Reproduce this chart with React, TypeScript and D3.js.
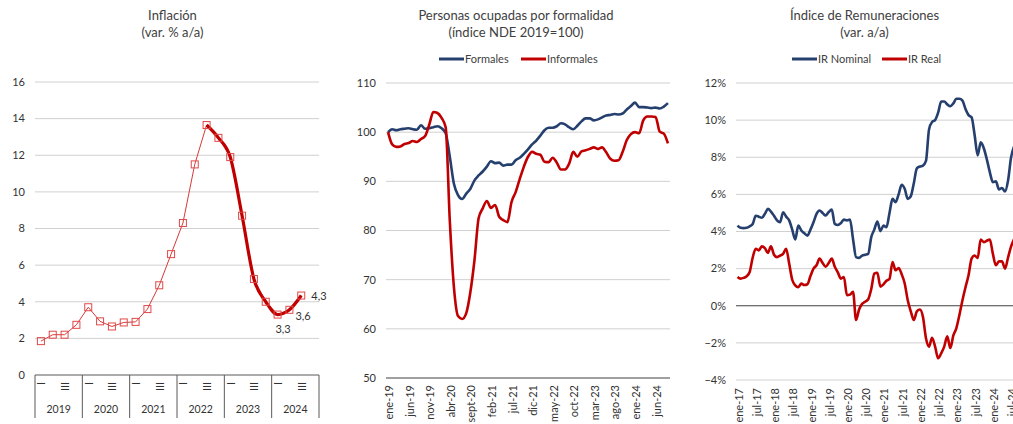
import React from "react";
import * as d3 from "d3";

// ---------- Chart 1: Inflación (quarterly, 2019Q1..2024Q3) ----------
const inflYears = ["2019", "2020", "2021", "2022", "2023", "2024"];
const inflQuarterTicks = ["I", "", "III", ""];
const inflValues = [
  1.85, 2.2, 2.2, 2.74,
  3.7, 2.93, 2.65, 2.87,
  2.9, 3.6, 4.9, 6.6,
  8.3, 11.5, 13.65, 12.95,
  11.9, 8.7, 5.24, 4.0,
  3.3, 3.56, 4.34,
];
const inflHighlightStart = 14;
const inflPointLabels = ["3,3", "3,6", "4,3"];
const inflPointLabelIdx = [20, 21, 22];
const inflTicks = [0, 2, 4, 6, 8, 10, 12, 14, 16];

// ---------- Chart 2: Personas ocupadas (monthly ene-19..sept-24) ----------
const empFormales = [
  100.0, 100.6, 100.4, 100.6, 100.7, 100.8, 100.6, 100.5, 101.4, 100.7,
  100.8, 101.0, 101.2, 100.8, 99.8, 95.0, 89.5, 87.2, 86.4, 87.5,
  88.5, 90.2, 91.2, 92.0, 93.0, 94.1, 93.7, 93.8, 93.2, 93.4,
  93.4, 94.3, 94.8, 95.6, 96.5, 97.5, 98.3, 99.3, 100.4, 100.9,
  100.9, 101.2, 101.8, 101.6, 101.0, 100.6, 101.3, 102.2, 102.8, 102.8,
  102.4, 102.6, 103.0, 103.4, 103.5, 103.7, 103.6, 103.8, 104.6, 105.3,
  106.0, 105.1, 105.1, 105.0, 104.9, 105.0, 104.8, 105.2, 105.9,
];
const empInformales = [
  100.0, 97.5, 97.0, 97.1, 97.6, 97.8, 98.2, 98.0, 98.6, 99.2,
  101.5, 104.1, 103.9, 102.9, 101.0, 82.0, 68.5, 62.6, 62.0, 63.2,
  67.5, 74.0, 82.5, 84.5, 86.0, 84.6, 85.2, 82.8, 82.1, 81.7,
  85.8, 87.8, 90.5, 93.0, 95.0, 96.0, 95.6, 95.4, 94.0, 93.9,
  94.8, 93.8, 92.4, 92.4, 93.6, 96.0, 95.0, 96.1, 96.3, 96.6,
  96.9, 96.6, 96.9, 95.9, 94.6, 94.2, 94.3, 96.0, 98.4, 99.6,
  100.0, 99.8, 102.4, 103.2, 103.2, 103.1, 100.1, 99.7, 97.7,
];
const empTickLabels = [
  "ene-19", "jun-19", "nov-19", "abr-20", "sept-20", "feb-21", "jul-21",
  "dic-21", "may-22", "oct-22", "mar-23", "ago-23", "ene-24", "jun-24",
];
const empTickStep = 5;
const empYTicks = [50, 60, 70, 80, 90, 100, 110];
const empSeriesNames = ["Formales", "Informales"];

// ---------- Chart 3: Índice de Remuneraciones (monthly ene-17..) ----------
const remNominal = [
  4.32, 4.2, 4.18, 4.2, 4.28, 4.4, 4.85, 4.8, 4.74, 4.95,
  5.22, 5.07, 4.85, 4.6, 4.5, 5.04, 4.8, 4.6, 4.1, 3.57,
  4.32, 4.05, 3.9, 3.78, 4.1, 4.5, 4.95, 5.13, 5.0, 4.86,
  5.05, 5.18, 4.41, 4.35, 4.45, 4.64, 4.6, 4.64, 3.6, 2.62,
  2.58, 2.7, 2.75, 2.8, 3.7, 4.1, 4.54, 4.02, 4.32, 4.23,
  5.0, 5.76, 5.58, 6.0, 6.52, 6.3, 5.76, 5.9, 6.6, 7.4,
  7.5, 7.55, 7.8, 9.5, 9.9, 10.0, 10.4, 11.0, 11.0, 10.85,
  10.75, 10.9, 11.15, 11.15, 11.05, 10.6, 10.27, 10.15, 9.2, 8.1,
  8.8, 8.5, 7.9, 7.2, 6.66, 6.7, 6.27, 6.34, 6.16, 6.75,
  8.0, 8.6,
];
const remReal = [
  1.55, 1.46, 1.5, 1.59, 1.82, 2.6, 3.07, 2.98, 3.2, 3.1,
  2.85, 3.2, 2.75, 2.62, 2.7, 2.8, 3.07, 2.27, 1.4, 1.1,
  1.0, 1.19, 1.12, 1.16, 1.6, 2.0, 2.18, 2.54, 2.3, 2.1,
  2.3, 2.54, 2.1, 1.8, 1.46, 1.55, 0.57, 0.6, 0.75, -0.77,
  -0.2, 0.1, 0.22, 0.35, 0.9, 1.73, 1.78, 1.03, 1.15, 1.35,
  1.45, 2.36, 1.91, 2.03, 1.7, 1.2, 0.3, -0.3, -0.77, -0.3,
  -0.2, -0.6, -1.75, -2.2, -1.72, -2.2, -2.83, -2.56, -2.2, -1.65,
  -2.28, -1.6, -1.2, -0.5, 0.3, 1.0, 1.64, 2.54, 2.71, 2.57,
  3.57, 3.43, 3.5, 3.57, 2.8, 2.18, 2.39, 2.39, 2.0, 2.6,
  3.2, 3.6,
];
const remTickLabels = [
  "ene-17", "jul-17", "ene-18", "jul-18", "ene-19", "jul-19", "ene-20", "jul-20",
  "ene-21", "jul-21", "ene-22", "jul-22", "ene-23", "jul-23", "ene-24", "jul-24",
];
const remTickStep = 6;
const remYTicks = [-4, -2, 0, 2, 4, 6, 8, 10, 12];
const remSeriesNames = ["IR Nominal", "IR Real"];

// ---------- styles ----------
const FONT = "Lato, 'Open Sans', sans-serif";
const TITLE_C = "#404040";
const TICK_C = "#333333";
const GRID_C = "#d0d0d0";
const AXIS_C = "#404040";
const NAVY = "#253f6e";
const RED = "#c00000";

function Title({ x, lines }: { x: number; lines: string[] }) {
  return (
    <g>
      {lines.map((t, i) => (
        <text key={i} x={x} y={19.5 + i * 17.5} textAnchor="middle" fontSize={13} fill={TITLE_C} fontFamily={FONT}>
          {t}
        </text>
      ))}
    </g>
  );
}

function InflationChart() {
  const x0 = 35, x1 = 319;
  const x = d3.scaleLinear().domain([0, 24]).range([x0, x1]);
  const y = d3.scaleLinear().domain([0, 16]).range([375, 82]);
  const px = (i: number) => x(i + 0.5);
  const line = d3.line<number>().x((_, i) => px(i)).y((d) => y(d));
  const thick = d3
    .line<number>()
    .x((_, i) => px(i + inflHighlightStart))
    .y((d) => y(d))
    .curve(d3.curveMonotoneX);
  const labelOffsets = [
    { dx: 5.5, dy: 18, anchor: "middle" },
    { dx: 6, dy: 10.5, anchor: "start" },
    { dx: 10, dy: 4.5, anchor: "start" },
  ];
  return (
    <g>
      <Title x={172.5} lines={["Inflación", "(var. % a/a)"]} />
      {inflTicks.map((t) => (
        <g key={t}>
          {t > 0 && <line x1={x0} x2={x1} y1={y(t)} y2={y(t)} stroke={GRID_C} strokeWidth={1} />}
          <text x={25} y={y(t)} dy="0.35em" textAnchor="end" fontSize={11} fill={TICK_C} fontFamily={FONT}>
            {t}
          </text>
        </g>
      ))}
      <line x1={x0} x2={x1} y1={y(0)} y2={y(0)} stroke="#595959" strokeWidth={1} />
      {d3.range(inflYears.length + 1).map((k) => (
        <line key={k} x1={x(k * 4)} x2={x(k * 4)} y1={y(0)} y2={418} stroke="#595959" strokeWidth={1} />
      ))}
      {inflYears.map((yr, k) => (
        <g key={yr}>
          <text x={x(k * 4 + 2)} y={413} textAnchor="middle" fontSize={10.5} fill={TICK_C} fontFamily={FONT}>
            {yr}
          </text>
          {inflQuarterTicks.map((q, j) =>
            q ? (
              <text
                key={j}
                transform={`translate(${px(k * 4 + j)},382) rotate(90)`}
                dy="0.35em"
                textAnchor="start"
                fontSize={10.5}
                fill={TICK_C}
                fontFamily={FONT}
              >
                {q}
              </text>
            ) : null
          )}
        </g>
      ))}
      <path d={line(inflValues) || ""} fill="none" stroke="#d83a3a" strokeWidth={1} />
      <path d={thick(inflValues.slice(inflHighlightStart)) || ""} fill="none" stroke={RED} strokeWidth={3.2} strokeLinejoin="round" />
      {inflValues.map((v, i) => (
        <rect key={i} x={px(i) - 3.5} y={y(v) - 3.5} width={7} height={7} fill="none" stroke="#e04848" strokeWidth={1} />
      ))}
      {inflPointLabels.map((t, k) => {
        const i = inflPointLabelIdx[k];
        const o = labelOffsets[k];
        return (
          <text key={t} x={px(i) + o.dx} y={y(inflValues[i]) + o.dy} textAnchor={o.anchor as any} fontSize={11} fill={TICK_C} fontFamily={FONT}>
            {t}
          </text>
        );
      })}
    </g>
  );
}

function Legend({ items, colors, starts }: { items: string[]; colors: string[]; starts: number[] }) {
  return (
    <g>
      {items.map((t, i) => (
        <g key={t}>
          <line x1={starts[i]} x2={starts[i] + 25} y1={59} y2={59} stroke={colors[i]} strokeWidth={3} />
          <text x={starts[i] + 26} y={59} dy="0.35em" fontSize={11} fill={TITLE_C} fontFamily={FONT}>
            {t}
          </text>
        </g>
      ))}
    </g>
  );
}

function EmploymentChart() {
  const x0 = 386, x1 = 670;
  const n = empFormales.length;
  const x = d3.scaleLinear().domain([-0.5, n - 0.5]).range([x0, x1]);
  const y = d3.scaleLinear().domain([50, 110]).range([378, 83]);
  const line = d3.line<number>().x((_, i) => x(i)).y((d) => y(d)).curve(d3.curveMonotoneX);
  return (
    <g>
      <Title x={516} lines={["Personas ocupadas por formalidad", "(índice NDE 2019=100)"]} />
      <Legend items={empSeriesNames} colors={[NAVY, RED]} starts={[439, 521]} />
      {empYTicks.map((t) => (
        <g key={t}>
          {t > 50 && <line x1={x0} x2={x1} y1={y(t)} y2={y(t)} stroke={GRID_C} strokeWidth={1} />}
          <text x={376} y={y(t)} dy="0.35em" textAnchor="end" fontSize={11} fill={TICK_C} fontFamily={FONT}>
            {t}
          </text>
        </g>
      ))}
      <line x1={x0} x2={x1} y1={y(50)} y2={y(50)} stroke={AXIS_C} strokeWidth={1} />
      {empTickLabels.map((t, k) => (
        <text
          key={t}
          transform={`translate(${x(k * empTickStep) + 1.2},385) rotate(-90)`}
          dy="0.35em"
          textAnchor="end"
          fontSize={11}
          fill={TICK_C}
          fontFamily={FONT}
        >
          {t}
        </text>
      ))}
      <path d={line(empFormales) || ""} fill="none" stroke={NAVY} strokeWidth={2.6} strokeLinejoin="round" />
      <path d={line(empInformales) || ""} fill="none" stroke={RED} strokeWidth={2.6} strokeLinejoin="round" />
    </g>
  );
}

function RemunerationChart() {
  const x0 = 736;
  const step = 3.04;
  const x = d3.scaleLinear().domain([0, 100]).range([737.5, 737.5 + 100 * step]);
  const y = d3.scaleLinear().domain([-4, 12]).range([380, 83]);
  const xEnd = 1013;
  const line = d3.line<number>().x((_, i) => x(i)).y((d) => y(d)).curve(d3.curveMonotoneX);
  return (
    <g>
      <Title x={864.5} lines={["Índice de Remuneraciones", "(var. a/a)"]} />
      <Legend items={remSeriesNames} colors={[NAVY, RED]} starts={[792, 882]} />
      {remYTicks.map((t) => (
        <g key={t}>
          <line x1={x0} x2={xEnd} y1={y(t)} y2={y(t)} stroke={t === 0 ? AXIS_C : GRID_C} strokeWidth={1} />
          <text x={726} y={y(t)} dy="0.35em" textAnchor="end" fontSize={11} fill={TICK_C} fontFamily={FONT}>
            {d3.format("d")(t) + "%"}
          </text>
        </g>
      ))}
      {remTickLabels.map((t, k) => (
        <text
          key={t}
          transform={`translate(${x(k * remTickStep) + 1.2},388) rotate(-90)`}
          dy="0.35em"
          textAnchor="end"
          fontSize={11}
          fill={TICK_C}
          fontFamily={FONT}
        >
          {t}
        </text>
      ))}
      <path d={line(remNominal) || ""} fill="none" stroke={NAVY} strokeWidth={2.6} strokeLinejoin="round" />
      <path d={line(remReal) || ""} fill="none" stroke={RED} strokeWidth={2.6} strokeLinejoin="round" />
    </g>
  );
}

export default function App() {
  return (
    <svg
      width={1013}
      height={424}
      viewBox="0 0 1013 424"
      style={{ position: "absolute", left: 0, top: 0, background: "#ffffff", display: "block" }}
    >
      <rect x={0} y={0} width={1013} height={424} fill="#ffffff" />
      <InflationChart />
      <EmploymentChart />
      <RemunerationChart />
    </svg>
  );
}
